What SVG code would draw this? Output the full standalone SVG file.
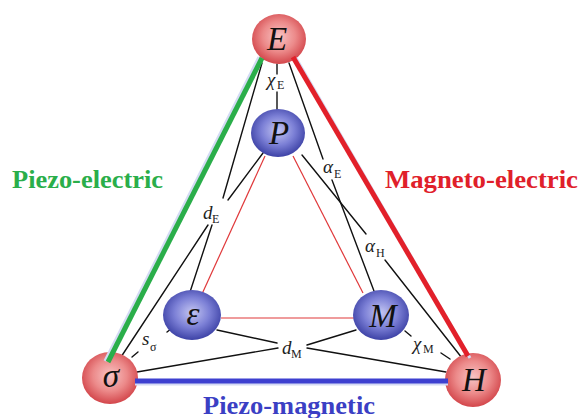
<svg xmlns="http://www.w3.org/2000/svg" width="580" height="418" viewBox="0 0 580 418">
<defs>
<radialGradient id="gr" cx="50%" cy="45%" r="55%">
<stop offset="0" stop-color="#f8c4c4"/>
<stop offset="0.55" stop-color="#ec8a8a"/>
<stop offset="1" stop-color="#d3464b"/>
</radialGradient>
<radialGradient id="gb" cx="50%" cy="45%" r="55%">
<stop offset="0" stop-color="#c4c6f2"/>
<stop offset="0.55" stop-color="#7c80d6"/>
<stop offset="1" stop-color="#3d42a6"/>
</radialGradient>
</defs>
<style>
.ln{stroke:#111;stroke-width:1.4;fill:none;stroke-linecap:round}
.rl{stroke:#e0383a;stroke-width:1.2;fill:none}
.sh{stroke:#d4daf4;stroke-width:3;fill:none}
.nr{fill:url(#gr)}
.nb{fill:url(#gb)}
.nt{font-family:"Liberation Serif",serif;font-style:italic;font-size:33px;fill:#111;text-anchor:middle}
.lb{font-family:"Liberation Serif",serif;font-style:italic;font-size:19px;fill:#222}
.sb{font-family:"Liberation Serif",serif;font-size:12px;fill:#222}
.big{font-family:"Liberation Serif",serif;font-weight:bold;font-size:25px}
</style>
<g id="connectors">
<line class="ln" x1="277" y1="64" x2="277" y2="74"/>
<line class="ln" x1="277" y1="92" x2="277" y2="110"/>
<line class="ln" x1="262" y1="63" x2="223" y2="198"/>
<line class="ln" x1="263" y1="153" x2="228" y2="200"/>
<line class="ln" x1="212" y1="225" x2="190" y2="292"/>
<line class="ln" x1="208" y1="225" x2="121" y2="357"/>
<line class="ln" x1="289" y1="63" x2="323" y2="159"/>
<line class="ln" x1="332" y1="180" x2="374" y2="291"/>
<line class="ln" x1="302" y1="155" x2="366" y2="234"/>
<line class="ln" x1="385" y1="260" x2="462" y2="358"/>
<line class="ln" x1="132" y1="357" x2="138" y2="352"/>
<line class="ln" x1="167" y1="332" x2="171" y2="329"/>
<line class="ln" x1="217" y1="330" x2="277" y2="343"/>
<line class="ln" x1="137" y1="372" x2="278" y2="348"/>
<line class="ln" x1="307" y1="345" x2="356" y2="330"/>
<line class="ln" x1="307" y1="348" x2="446" y2="372"/>
<line class="ln" x1="405" y1="331" x2="411" y2="336"/>
<line class="ln" x1="441" y1="353" x2="450" y2="359"/>
<line class="rl" x1="265" y1="156" x2="202" y2="294"/>
<line class="rl" x1="293" y1="156" x2="363" y2="293"/>
<line class="rl" x1="221" y1="318" x2="354" y2="318"/>
</g>
<g id="node-E"><ellipse class="nr" cx="279" cy="39" rx="27" ry="25"/><text class="nt" x="277" y="50">E</text></g>
<g id="node-P"><ellipse class="nb" cx="278" cy="133" rx="27" ry="24"/><text class="nt" x="279" y="144">P</text></g>
<g id="node-eps"><ellipse class="nb" cx="192" cy="315" rx="29" ry="25"/><text class="nt" x="193" y="325">ε</text></g>
<g id="node-M"><ellipse class="nb" cx="381" cy="315" rx="28" ry="25"/><text class="nt" x="383" y="327">M</text></g>
<g id="node-sigma"><ellipse class="nr" cx="110" cy="378" rx="28" ry="26"/><text class="nt" x="111" y="387">σ</text></g>
<g id="node-H"><ellipse class="nr" cx="473" cy="380" rx="28" ry="27"/><text class="nt" x="474" y="391">H</text></g>
<g id="edges-thick">
<line class="sh" x1="259" y1="57" x2="105" y2="361"/>
<line stroke="#2aae4a" stroke-width="5" x1="262" y1="58" x2="108" y2="362"/>
<line class="sh" x1="296" y1="58" x2="470" y2="358"/>
<line stroke="#e2202a" stroke-width="5" x1="293" y1="57" x2="468" y2="356"/>
<line class="sh" x1="135" y1="384" x2="448" y2="384"/>
<line stroke="#3d40d0" stroke-width="5" x1="135" y1="381" x2="448" y2="381"/>
</g>
<g id="labels">
<text class="lb" x="267" y="86">χ</text><text class="sb" x="277" y="89">E</text>
<text class="lb" x="203" y="219">d</text><text class="sb" x="212" y="223">E</text>
<text class="lb" x="323" y="173">α</text><text class="sb" x="334" y="178">E</text>
<text class="lb" x="365" y="252">α</text><text class="sb" x="376" y="257">H</text>
<text class="lb" x="142" y="345">s</text><text class="sb" x="150" y="351">σ</text>
<text class="lb" x="282" y="354">d</text><text class="sb" x="291" y="358">M</text>
<text class="lb" x="413" y="350">χ</text><text class="sb" x="423" y="353">M</text>
<text class="big" x="12" y="188" fill="#2aae4a" textLength="151" lengthAdjust="spacingAndGlyphs">Piezo-electric</text>
<text class="big" x="385" y="188" fill="#e0202a" textLength="193" lengthAdjust="spacingAndGlyphs">Magneto-electric</text>
<text class="big" x="203" y="414" fill="#3b3fc4" textLength="172" lengthAdjust="spacingAndGlyphs">Piezo-magnetic</text>
</g>
</svg>
